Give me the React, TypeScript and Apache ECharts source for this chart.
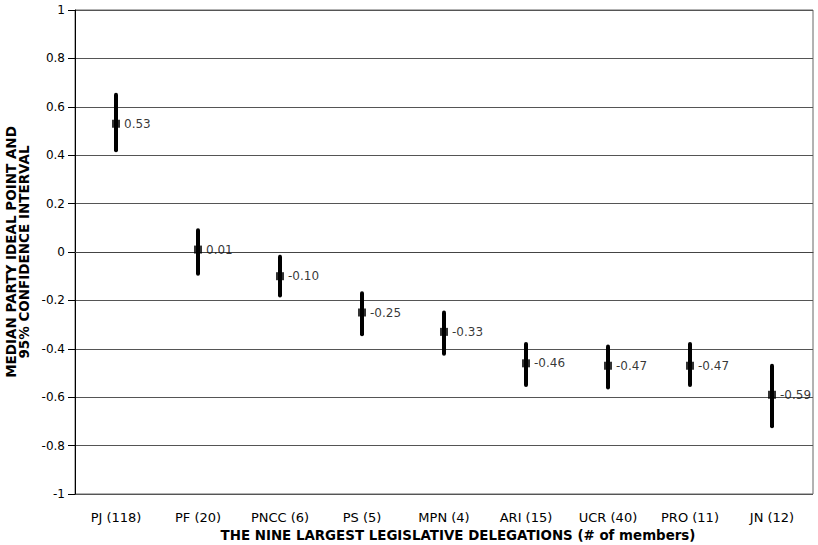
import React, { useEffect, useRef } from "react";
import * as echarts from "echarts";

const categories = ["PJ (118)", "PF (20)", "PNCC (6)", "PS (5)", "MPN (4)", "ARI (15)", "UCR (40)", "PRO (11)", "JN (12)"];
const medians = [0.53, 0.01, -0.10, -0.25, -0.33, -0.46, -0.47, -0.47, -0.59];
const upper = [0.65, 0.09, -0.02, -0.17, -0.25, -0.38, -0.39, -0.38, -0.47];
const lower = [0.42, -0.09, -0.18, -0.34, -0.42, -0.55, -0.56, -0.55, -0.72];

const FONT = "'DejaVu Sans', Verdana, sans-serif";

export default function App() {
  const ref = useRef<HTMLDivElement>(null);
  useEffect(() => {
    if (!ref.current) return;
    const chart = echarts.init(ref.current, null, { renderer: "svg" });
    chart.setOption({
      animation: false,
      backgroundColor: "#fff",
      grid: {
        left: 75, right: 5, top: 10, bottom: 51,
        show: true, borderColor: "#666", borderWidth: 1,
        containLabel: false, outerBoundsMode: "none",
      },
      xAxis: {
        type: "category",
        data: categories,
        boundaryGap: true,
        axisLine: { show: true, lineStyle: { color: "#444", width: 1 } },
        axisTick: { show: false },
        axisLabel: { color: "#000", fontFamily: FONT, fontSize: 13, margin: 17 },
        name: "THE NINE LARGEST LEGISLATIVE DELEGATIONS (# of members)",
        nameLocation: "middle",
        nameGap: 35,
        nameTextStyle: { color: "#000", fontFamily: FONT, fontWeight: "bold", fontSize: 13.4, padding: [0, 0, 0, 28] },
      },
      yAxis: {
        type: "value",
        min: -1,
        max: 1,
        interval: 0.2,
        axisLine: { show: true, lineStyle: { color: "#000", width: 1 } },
        axisTick: { show: true, length: 7, lineStyle: { color: "#000" } },
        splitLine: { show: true, lineStyle: { color: "#555", width: 1 } },
        axisLabel: {
          color: "#000",
          fontFamily: FONT,
          fontSize: 12,
          margin: 10,
          formatter: (v: number) => String(Math.round(v * 10) / 10),
        },
        name: "MEDIAN PARTY IDEAL POINT AND\n95% CONFIDENCE INTERVAL",
        nameLocation: "middle",
        nameGap: 42,
        nameRotate: 90,
        nameTextStyle: { color: "#000", fontFamily: FONT, fontWeight: "bold", fontSize: 13.5, lineHeight: 13 },
      },
      series: [
        {
          type: "custom",
          data: categories.map((_, i) => [i, upper[i], lower[i]]),
          encode: { x: 0, y: [1, 2] },
          clip: false,
          renderItem: (params: any, api: any) => {
            const x = api.value(0);
            const hi = api.coord([x, api.value(1)]);
            const lo = api.coord([x, api.value(2)]);
            return {
              type: "line",
              shape: { x1: hi[0], y1: hi[1], x2: lo[0], y2: lo[1] },
              style: { stroke: "#000", lineWidth: 4, lineCap: "round" },
            };
          },
          z: 2,
        },
        {
          type: "scatter",
          data: medians,
          symbol: "rect",
          symbolSize: 8,
          clip: false,
          itemStyle: { color: "#000" },
          label: {
            show: true,
            position: "right",
            distance: 4,
            color: "#000",
            fontFamily: FONT,
            fontSize: 12,
            formatter: (p: any) => Number(p.value).toFixed(2),
          },
          labelLayout: { hideOverlap: false },
          z: 3,
        },
      ],
    });
    return () => chart.dispose();
  }, []);
  return <div ref={ref} style={{ position: "absolute", left: 0, top: 0, width: 818, height: 545 }} />;
}
